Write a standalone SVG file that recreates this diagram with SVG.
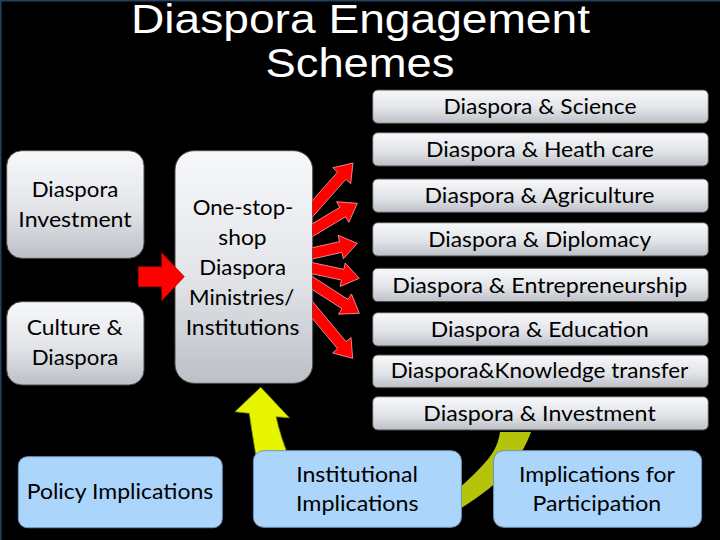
<svg xmlns="http://www.w3.org/2000/svg" width="720" height="540" viewBox="0 0 720 540">
<defs>
<linearGradient id="grey" x1="0" y1="0" x2="0" y2="1">
<stop offset="0" stop-color="#f7f8fa"/>
<stop offset="0.55" stop-color="#e2e4e8"/>
<stop offset="1" stop-color="#bcc0c7"/>
</linearGradient>
<clipPath id="fanclip"><rect x="312.5" y="140" width="80" height="240"/></clipPath>
<style>
.t{font-family:Lato,"Liberation Sans",sans-serif;font-size:21px;fill:#000;text-anchor:middle}
.title{font-family:"Liberation Sans",Arial,sans-serif;font-size:40px;fill:#fff;text-anchor:middle}
.g{fill:url(#grey);stroke:#4a4a4a;stroke-width:1}
.b{fill:#acd5fb;stroke:#6d95bd;stroke-width:1}
.red{fill:#ff0000;stroke:#ffb3b3;stroke-width:0.7}
</style>
</defs>
<rect width="720" height="540" fill="#000"/>
<path d="M0.75,540 V0.75 H720" fill="none" stroke="#22405f" stroke-width="1.5"/>

<g id="title">
<text class="title" x="360.5" y="33" textLength="459" lengthAdjust="spacingAndGlyphs">Diaspora Engagement</text>
<text class="title" x="360" y="77" textLength="189" lengthAdjust="spacingAndGlyphs">Schemes</text>
</g>

<g id="diaspora-investment">
<rect class="g" x="6.7" y="150.7" width="137.3" height="107.6" rx="15"/>
<text class="t" x="75" y="196.7" textLength="86.7" lengthAdjust="spacingAndGlyphs">Diaspora</text>
<text class="t" x="75" y="226.7" textLength="113.3" lengthAdjust="spacingAndGlyphs">Investment</text>
</g>
<g id="culture-diaspora">
<rect class="g" x="6.7" y="301.7" width="137.3" height="83.3" rx="15"/>
<text class="t" x="74.7" y="335" textLength="96" lengthAdjust="spacingAndGlyphs">Culture &amp;</text>
<text class="t" x="75" y="365" textLength="86.7" lengthAdjust="spacingAndGlyphs">Diaspora</text>
</g>
<g id="one-stop-shop">
<rect class="g" x="175" y="150.7" width="137.7" height="232.6" rx="19"/>
<text class="t" x="243" y="215" textLength="100.7" lengthAdjust="spacingAndGlyphs">One-stop-</text>
<text class="t" x="242.5" y="245" textLength="48.3" lengthAdjust="spacingAndGlyphs">shop</text>
<text class="t" x="242.7" y="275" textLength="86.7" lengthAdjust="spacingAndGlyphs">Diaspora</text>
<text class="t" x="241.7" y="305" textLength="105.3" lengthAdjust="spacingAndGlyphs">Ministries/</text>
<text class="t" x="242.5" y="335" textLength="113.7" lengthAdjust="spacingAndGlyphs">Institutions</text>
</g>

<g id="science">
<rect class="g" x="372.7" y="90" width="335.6" height="33.3" rx="5"/>
<text class="t" x="540" y="114.3" textLength="193" lengthAdjust="spacingAndGlyphs">Diaspora &amp; Science</text>
</g>
<g id="health">
<rect class="g" x="372.7" y="132.7" width="335.6" height="33.3" rx="5"/>
<text class="t" x="540" y="157.3" textLength="228" lengthAdjust="spacingAndGlyphs">Diaspora &amp; Heath care</text>
</g>
<g id="agriculture">
<rect class="g" x="372.7" y="179" width="335.6" height="33.3" rx="5"/>
<text class="t" x="539.5" y="203.3" textLength="230" lengthAdjust="spacingAndGlyphs">Diaspora &amp; Agriculture</text>
</g>
<g id="diplomacy">
<rect class="g" x="372.7" y="222.7" width="335.6" height="33.3" rx="5"/>
<text class="t" x="539.7" y="246.7" textLength="223" lengthAdjust="spacingAndGlyphs">Diaspora &amp; Diplomacy</text>
</g>
<g id="entrepreneurship">
<rect class="g" x="372.7" y="268.3" width="335.6" height="33.3" rx="5"/>
<text class="t" x="539.8" y="292.7" textLength="295" lengthAdjust="spacingAndGlyphs">Diaspora &amp; Entrepreneurship</text>
</g>
<g id="education">
<rect class="g" x="372.7" y="312.7" width="335.6" height="33.3" rx="5"/>
<text class="t" x="539.8" y="337.3" textLength="218" lengthAdjust="spacingAndGlyphs">Diaspora &amp; Education</text>
</g>
<g id="knowledge">
<rect class="g" x="372.7" y="355" width="335.6" height="32.7" rx="5"/>
<text class="t" x="539.5" y="378.3" textLength="297.6" lengthAdjust="spacingAndGlyphs">Diaspora&amp;Knowledge transfer</text>
</g>
<g id="investment">
<rect class="g" x="372.7" y="396.7" width="335.6" height="33.3" rx="5"/>
<text class="t" x="539.5" y="420.7" textLength="232.4" lengthAdjust="spacingAndGlyphs">Diaspora &amp; Investment</text>
</g>

<g id="connectors">
<polygon points="138.3,266.7 161.7,266.7 161.7,252.7 184.3,276.7 161.7,300.7 161.7,286.7 138.3,286.7" fill="#ff0000" stroke="#b00000" stroke-width="0.7"/>
<g clip-path="url(#fanclip)">
<polygon class="red" transform="translate(353,163) rotate(-48.4)" points="-74,-5.5 -17,-5.5 -17,-12 0,0 -17,12 -17,5.5 -74,5.5"/>
<polygon class="red" transform="translate(357.3,203.3) rotate(-30.9)" points="-66,-5.5 -17,-5.5 -17,-12 0,0 -17,12 -17,5.5 -66,5.5"/>
<polygon class="red" transform="translate(357.3,243.3) rotate(-12.6)" points="-60,-5.5 -17,-5.5 -17,-12 0,0 -17,12 -17,5.5 -60,5.5"/>
<polygon class="red" transform="translate(359.3,278.3) rotate(12.1)" points="-62,-5.5 -17,-5.5 -17,-12 0,0 -17,12 -17,5.5 -62,5.5"/>
<polygon class="red" transform="translate(359.3,313.3) rotate(32.8)" points="-69,-5.5 -17,-5.5 -17,-12 0,0 -17,12 -17,5.5 -69,5.5"/>
<polygon class="red" transform="translate(352.7,358.3) rotate(50.2)" points="-77,-5.5 -17,-5.5 -17,-12 0,0 -17,12 -17,5.5 -77,5.5"/>
</g>
<path d="M260.7,387.3 L289.3,417.7 L276,416.7 Q280,435 288.3,456 L256,456 Q252,432 249.3,413.3 L235,411.7 Z" fill="#e8f500" stroke="#8f9600" stroke-width="0.8"/>
<path d="M500,432 L531,432 C520,462 500,485 455,512 L455,492 C488,462 497,452 500,432 Z" fill="#b5c40a"/>
</g>

<g id="policy">
<rect class="b" x="18.3" y="456.7" width="204" height="71" rx="9"/>
<text class="t" x="120" y="499.3" textLength="186.6" lengthAdjust="spacingAndGlyphs">Policy Implications</text>
</g>
<g id="institutional">
<rect class="b" x="253.4" y="450.7" width="208" height="76.6" rx="10"/>
<text class="t" x="357" y="481.7" textLength="121.7" lengthAdjust="spacingAndGlyphs">Institutional</text>
<text class="t" x="357.3" y="511" textLength="122.6" lengthAdjust="spacingAndGlyphs">Implications</text>
</g>
<g id="participation">
<rect class="b" x="493.6" y="450.7" width="208" height="76.6" rx="10"/>
<text class="t" x="596.9" y="481.7" textLength="156" lengthAdjust="spacingAndGlyphs">Implications for</text>
<text class="t" x="596.9" y="511" textLength="128.6" lengthAdjust="spacingAndGlyphs">Participation</text>
</g>
</svg>
